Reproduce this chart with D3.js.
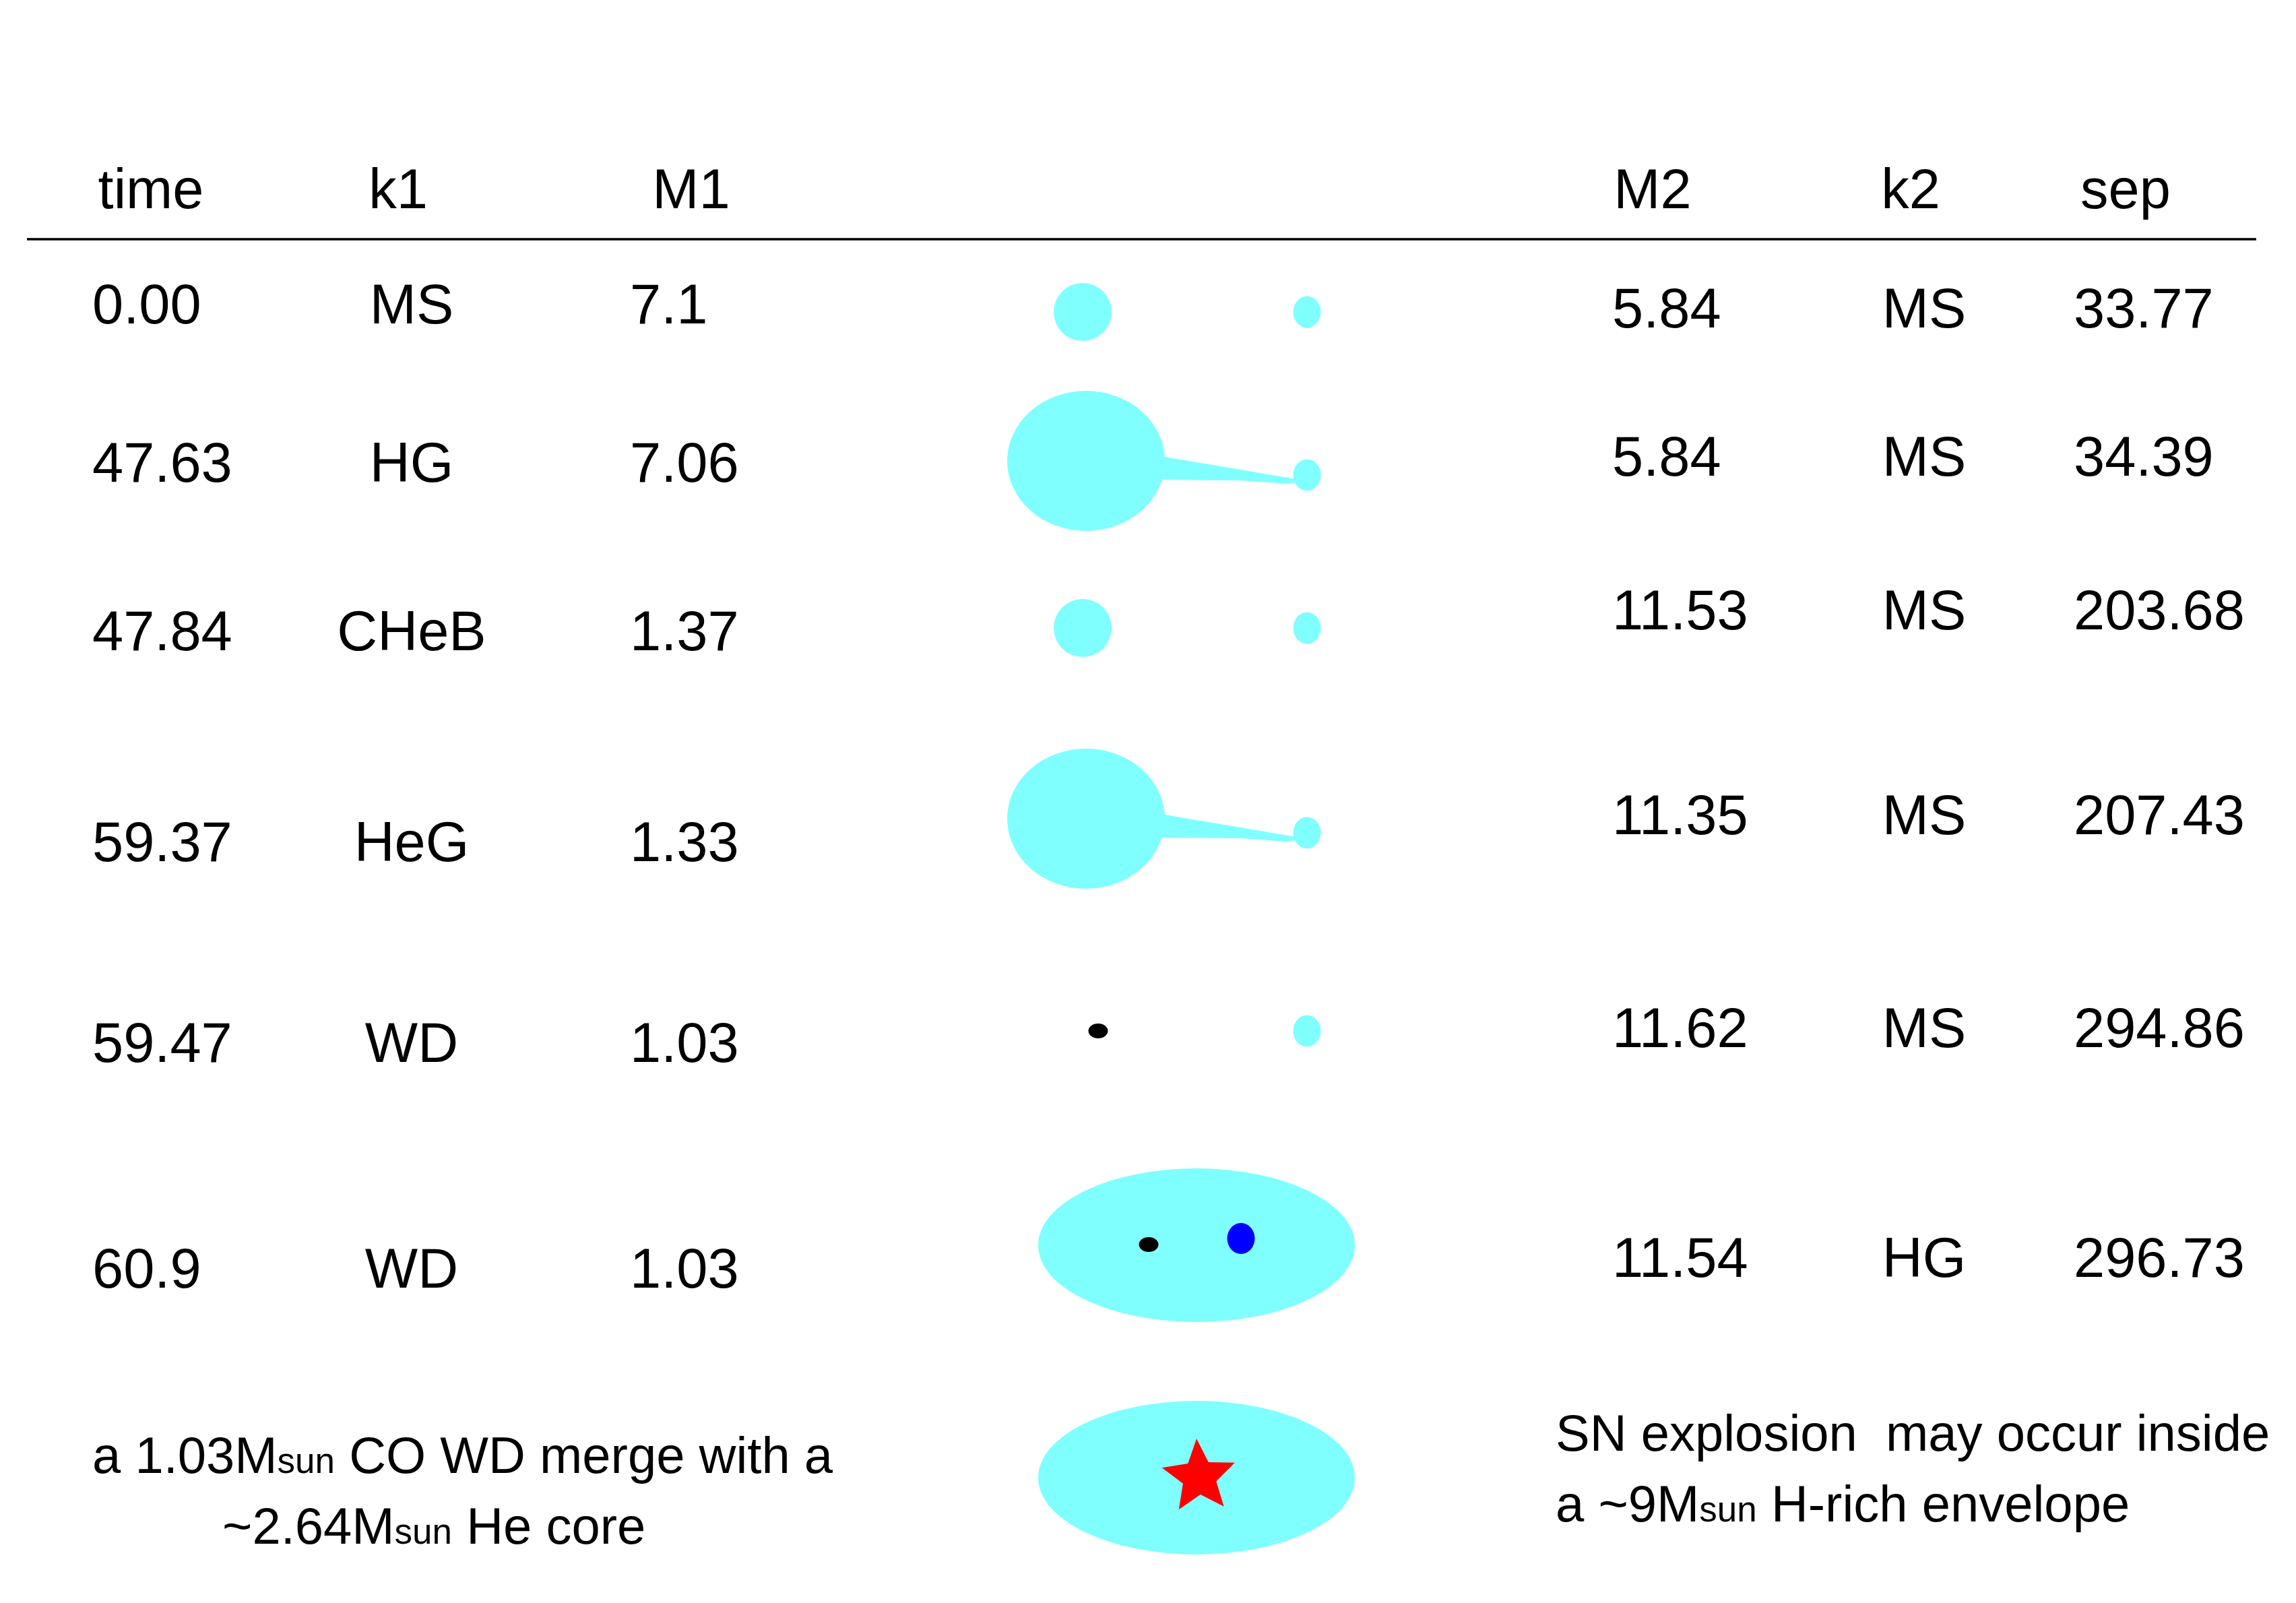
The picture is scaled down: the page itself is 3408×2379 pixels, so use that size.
<!DOCTYPE html>
<meta charset="utf-8">
<style>
body{margin:0;background:#fff;}
text{font-family:"Liberation Sans",Arial,sans-serif;fill:#000;white-space:pre;}
.cell,.head{font-size:83px;}
.note{font-size:76px;}
.note .sub{font-size:53px;}
</style>
<body>
<script src="https://d3js.org/d3.v7.min.js"></script>
<script>

// table columns
var headers=["time","k1","M1","M2","k2","sep"];
var time=["0.00","47.63","47.84","59.37","59.47","60.9"];
var k1=["MS","HG","CHeB","HeG","WD","WD"];
var m1=["7.1","7.06","1.37","1.33","1.03","1.03"];
var m2=["5.84","5.84","11.53","11.35","11.62","11.54"];
var k2=["MS","MS","MS","MS","MS","HG"];
var sep=["33.77","34.39","203.68","207.43","294.86","296.73"];

// what the sketch in the middle shows for each stage (6 rows + final)
var phase=["detached","RLOF","detached","RLOF","detached","CE","SN"];

// bottom remarks, [text, subscript, text] pieces
var noteLeft=[["a 1.03M","sun"," CO WD merge with a"],["~2.64M","sun"," He core"]];
var noteRight=[["SN explosion  may occur inside"],["a ~9M","sun"," H-rich envelope"]];

var W=3408,H=2379;
var cyan="#80ffff";

var svg=d3.select("body").append("svg")
	.attr("width",W).attr("height",H).attr("viewBox","0 0 "+W+" "+H);

var cols={time:time,k1:k1,M1:m1,M2:m2,k2:k2,sep:sep};
var leftSide={time:1,k1:1,M1:1};

var headX=d3.scaleOrdinal().domain(headers).range([224,591,1026,2453,2836,3155]);
var colX=d3.scaleOrdinal().domain(headers).range([137,611,935,2393,2856,3078]);
var anchor=d3.scaleOrdinal().domain(headers).range(["start","middle","start","start","middle","start"]);
var rows=d3.range(time.length);
var yLeft=d3.scaleOrdinal().domain(rows).range([480,715,965,1278,1576,1911]);
var yRight=d3.scaleOrdinal().domain(rows).range([486,706,934,1238,1554,1895]);

// header + rule
svg.selectAll(".head").data(headers).join("text").attr("class","head")
	.attr("x",d=>headX(d)).attr("y",309).attr("text-anchor","middle").text(d=>d);
svg.append("line").attr("x1",40).attr("x2",3349).attr("y1",355).attr("y2",355)
	.attr("stroke","#000").attr("stroke-width",3.5);

// cells
var cells=[];
headers.forEach(function(h){
	cols[h].forEach(function(v,i){ cells.push({col:h,row:i,v:v}); });
});
svg.selectAll(".cell").data(cells).join("text").attr("class","cell")
	.attr("x",d=>colX(d.col))
	.attr("y",d=>leftSide[d.col]? yLeft(d.row): yRight(d.row))
	.attr("text-anchor",d=>anchor(d.col))
	.text(d=>d.v);

// sketches
var gx=d3.scaleOrdinal().domain(["donor","accretor","envelope"]).range([1612,1940,1776]);
var gy=d3.scaleOrdinal().domain(d3.range(phase.length)).range([463,684,932,1215,1530,1848,2193]);

var msR=43, wd=[14.5,11], acc=[20.5,23.5], giant=[117,104], env=[235,114];
var line=d3.line();

phase.forEach(function(p,i){
	var g=svg.append("g").attr("class","stage");
	var cx=gx("donor"), cy=gy(i), ax=gx("accretor");
	if(p=="detached"){
		if(k1[i]=="WD")
			g.append("ellipse").attr("cx",cx+18).attr("cy",cy).attr("rx",wd[0]).attr("ry",wd[1]).attr("fill","#000");
		else
			g.append("circle").attr("cx",cx-5).attr("cy",cy).attr("r",msR).attr("fill",cyan);
		g.append("ellipse").attr("cx",ax).attr("cy",cy).attr("rx",acc[0]).attr("ry",acc[1]).attr("fill",cyan);
	}
	if(p=="RLOF"){
		var ay=cy+21, rx=giant[0];
		g.append("ellipse").attr("cx",cx).attr("cy",cy).attr("rx",giant[0]).attr("ry",giant[1]).attr("fill",cyan);
		g.append("path").attr("fill",cyan).attr("d",line([
			[cx+rx-6,cy-7],[ax-acc[0]+4,ay+6],[ax-acc[0]+4,ay+11],
			[ax-acc[0]-10,ay+13],[cx+rx+112,cy+29],[cx+rx-6,cy+28]])+"Z");
		g.append("ellipse").attr("cx",ax).attr("cy",ay).attr("rx",acc[0]).attr("ry",acc[1]).attr("fill",cyan);
	}
	if(p=="CE"||p=="SN"){
		var ex=gx("envelope");
		g.append("ellipse").attr("cx",ex).attr("cy",cy).attr("rx",env[0]).attr("ry",env[1]).attr("fill",cyan);
		if(p=="CE"){
			g.append("ellipse").attr("cx",ex-71).attr("cy",cy-1).attr("rx",wd[0]).attr("ry",wd[1]).attr("fill","#000");
			g.append("ellipse").attr("cx",ex+66).attr("cy",cy-10).attr("rx",20.5).attr("ry",23).attr("fill","#0000ff");
		}else{
			var pts=d3.range(10).map(function(j){
				return [j*Math.PI/5-0.07, j%2? 26: 57];
			});
			g.append("path").attr("fill","#ff0000")
				.attr("transform","translate("+(ex+4)+","+(cy-1)+")")
				.attr("d",d3.lineRadial().curve(d3.curveLinearClosed)(pts));
		}
	}
});

// remarks
function note(lines,x,ys){
	lines.forEach(function(parts,i){
		var t=svg.append("text").attr("class","note").attr("x",x[i]).attr("y",ys[i]);
		parts.forEach(function(s,j){
			t.append("tspan").attr("class",j==1?"sub":null).text(s);
		});
	});
}
note(noteLeft,[137,330],[2186,2291]);
note(noteRight,[2309,2309],[2153,2258]);

</script>
</body>
